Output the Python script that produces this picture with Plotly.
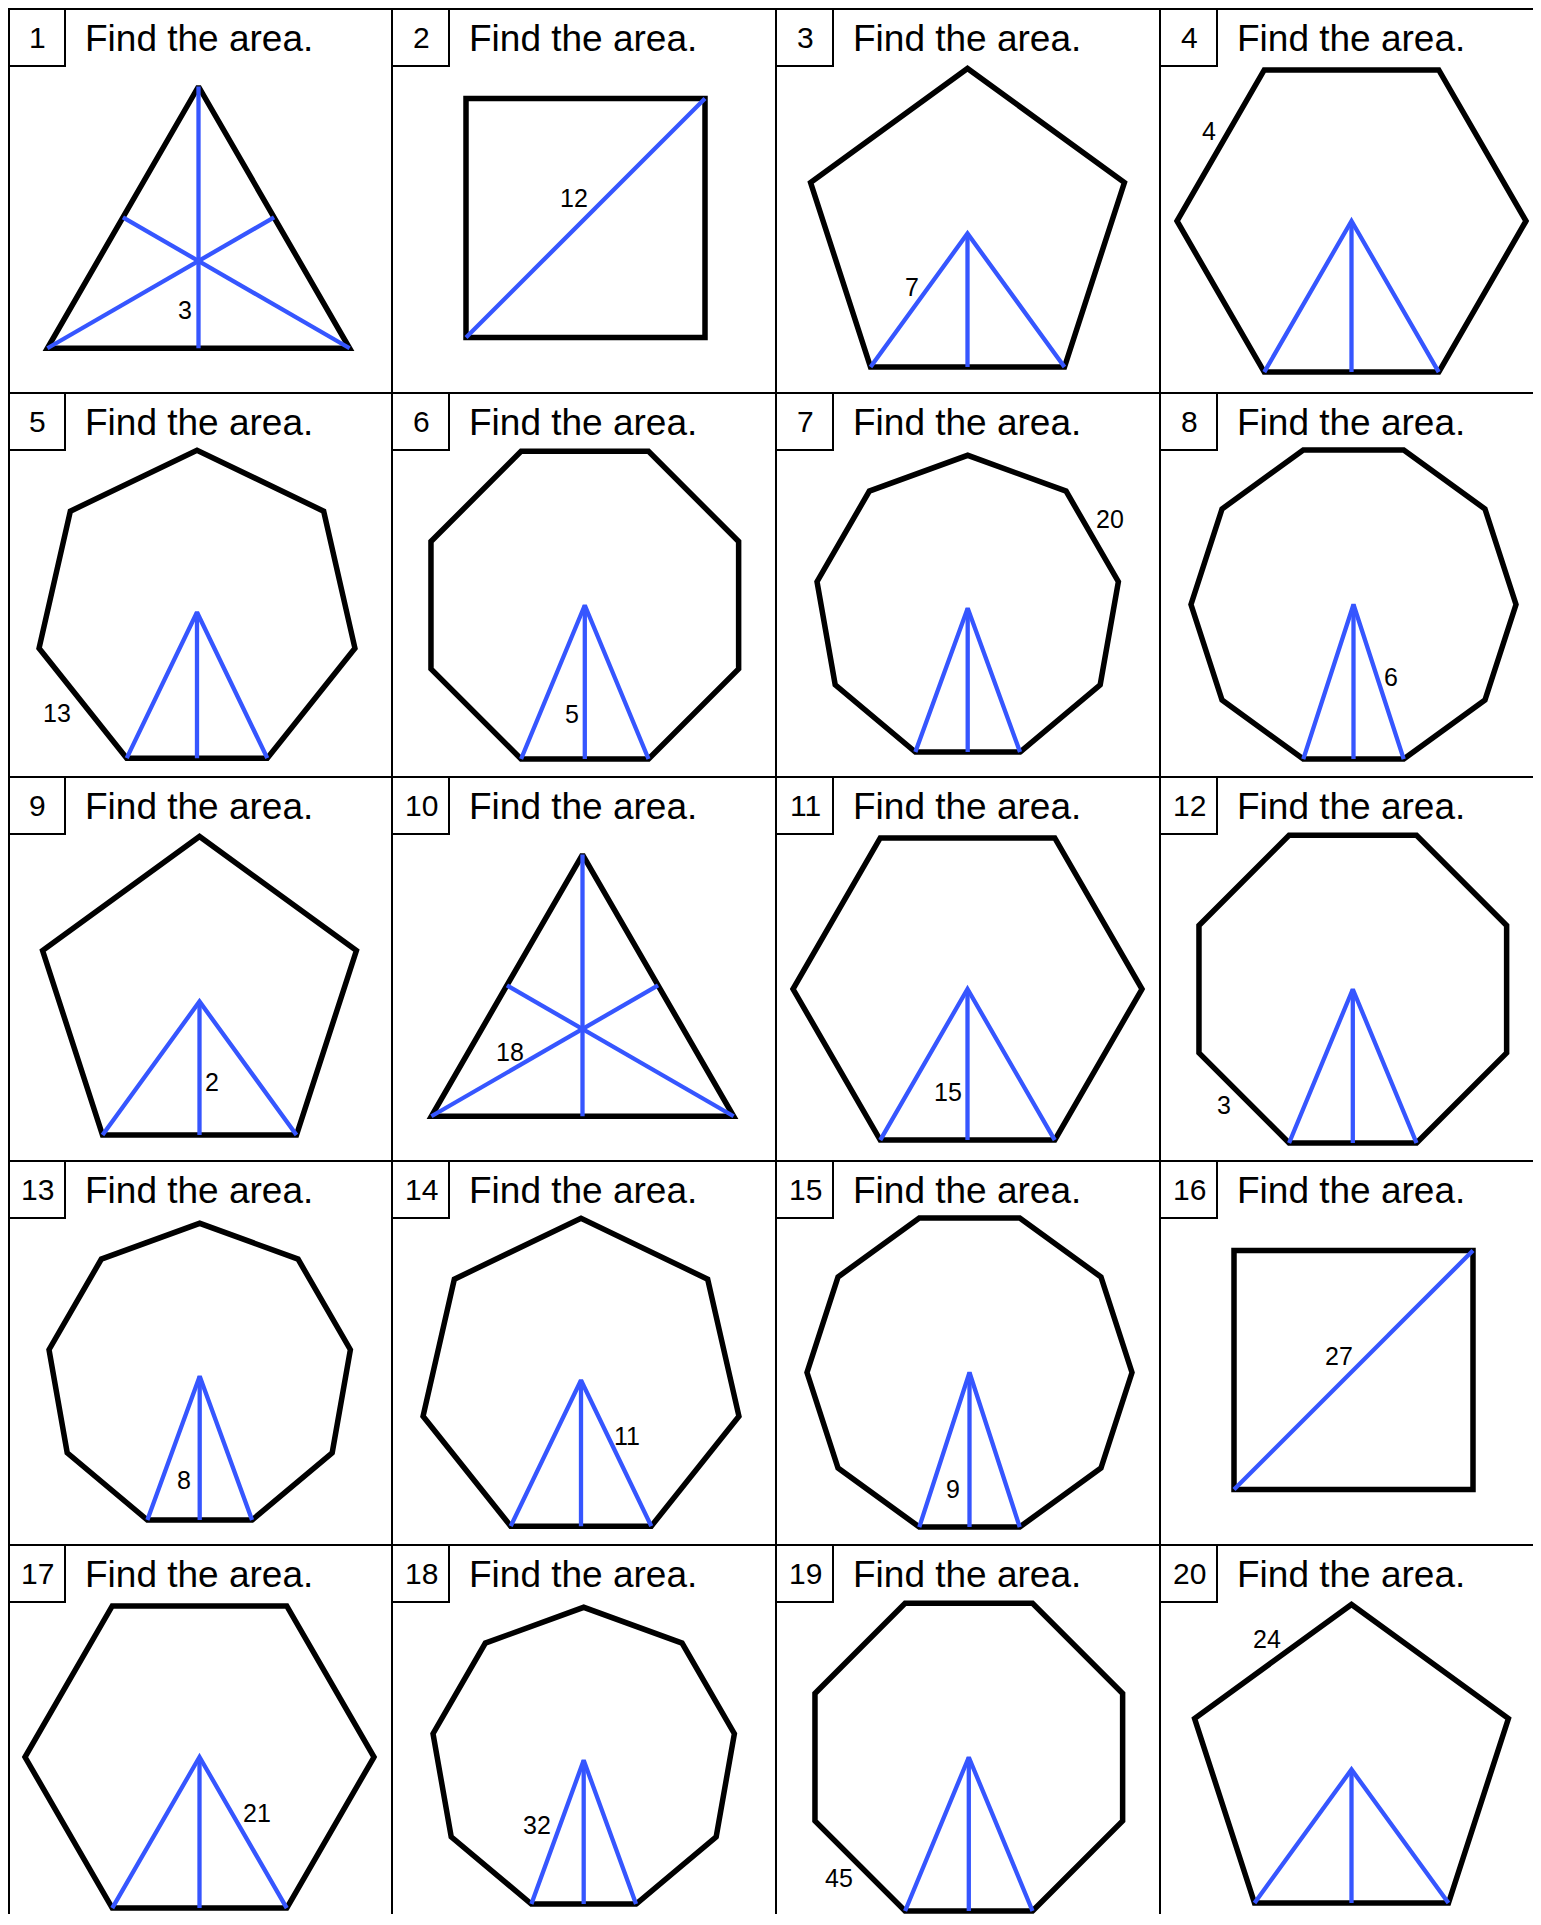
import numpy as np
import plotly.graph_objects as go

# ---------------- data ----------------
problem_numbers = list(range(1, 21))
sides = [3, 4, 5, 6, 7, 8, 9, 10, 5, 3, 6, 8, 9, 7, 10, 4, 6, 9, 8, 5]
given_values = [3, 12, 7, 4, 13, 5, 20, 6, 2, 18, 15, 3, 8, 11, 9, 27, 21, 32, 45, 24]
given_parts = ["apothem", "diagonal", "radius_l", "side", "side", "apothem", "side", "radius_r",
               "apothem", "radius_l", "apothem", "side", "apothem", "radius_r", "apothem",
               "diagonal", "radius_r", "radius_l", "side", "side"]
# which edge carries the value when the given part is a side (vertex index of its first end)
given_side_index = [None, None, None, 3, 5, None, 2, None, None, None,
                    None, 6, None, None, None, None, None, None, 6, 2]
prompt = "Find the area."

# ---------------- layout ----------------
N_COLS, N_ROWS = 4, 5
CELL = 384
GRID_X0, GRID_Y0 = 8, 9
PAGE_X0, PAGE_Y0 = 8, 8          # default body margin of the page
FIG_W, FIG_H = 1533, 1906
X_MAX, Y_MAX = PAGE_X0 + FIG_W, PAGE_Y0 + FIG_H
BOX = 57
BLACK, BLUE = "#000000", "#3656ff"
FONT = "Liberation Sans, Arial, Helvetica, sans-serif"

# circumradius and centre (relative to cell) for each polygon type
shape_geom = {3: (174.5, 190.5, 252.0), 4: (169.0, 193.5, 209.0), 5: (165.0, 191.5, 224.5),
              6: (174.5, 191.5, 212.0), 7: (162.0, 189.0, 219.2), 8: (166.5, 192.8, 212.2),
              9: (153.0, 191.7, 215.3), 10: (162.5, 193.5, 211.5)}
# label shift from the midpoint of the labelled segment
label_shift = [(-14, 5.5), (-12, -20), (-6.6, -13.6), (-11.3, -14.2), (-25.8, 9.9),
               (-12.6, 32), (18.1, -17), (12.7, -5.1), (12.9, 14.1), (3.3, -20.6),
               (-19.5, 27), (-19.7, 7.3), (-15.5, 31.4), (11.2, -17.3), (-16.5, 39.7),
               (-15, -14.4), (13.6, -20), (-21, -7.5), (-21.3, 12.3), (-5.7, -23)]

fig = go.Figure()


def add_path(xs, ys, color, width):
    fig.add_trace(go.Scatter(x=xs, y=ys, mode="lines",
                             line=dict(color=color, width=width),
                             hoverinfo="skip", showlegend=False))


shapes = []
annotations = []

# grid lines
for r in range(N_ROWS):
    y = GRID_Y0 + CELL * r
    shapes.append(dict(type="line", xref="x", yref="y", x0=GRID_X0, x1=X_MAX + 5, y0=y, y1=y,
                       line=dict(color=BLACK, width=2)))
for c in range(N_COLS):
    x = GRID_X0 + CELL * c + (1 if c == 0 else 0)
    shapes.append(dict(type="line", xref="x", yref="y", x0=x, x1=x, y0=GRID_Y0, y1=Y_MAX + 5,
                       line=dict(color=BLACK, width=2)))

for i, num in enumerate(problem_numbers):
    r, c = divmod(i, N_COLS)
    ox, oy = GRID_X0 + CELL * c, GRID_Y0 + CELL * r
    # number box
    shapes.append(dict(type="rect", xref="x", yref="y", x0=ox, x1=ox + BOX, y0=oy, y1=oy + BOX,
                       line=dict(color=BLACK, width=2)))
    annotations.append(dict(x=ox + BOX / 2 + 0.5, y=oy + BOX / 2, xref="x", yref="y",
                            text=str(num), showarrow=False, xanchor="center", yanchor="middle",
                            font=dict(family=FONT, size=30, color=BLACK)))
    annotations.append(dict(x=ox + 75, y=oy + 29, xref="x", yref="y", text=prompt,
                            showarrow=False, xanchor="left", yanchor="middle",
                            font=dict(family=FONT, size=37, color=BLACK)))

    n = sides[i]
    R, rcx, rcy = shape_geom[n]
    cx, cy = ox + rcx, oy + rcy
    phi = np.pi / n + 2 * np.pi * np.arange(n) / n
    vx = cx + R * np.sin(phi)
    vy = cy + R * np.cos(phi)
    apo = R * np.cos(np.pi / n)
    bmx, bmy = cx, cy + apo
    br = (vx[0], vy[0])
    bl = (vx[n - 1], vy[n - 1])

    # black outline (first two vertices repeated so every corner is joined)
    add_path(list(vx) + [vx[0], vx[1]], list(vy) + [vy[0], vy[1]], BLACK, 5.5)

    # blue construction lines
    if n == 3:
        for k in range(3):
            a, b = (k + 1) % 3, (k + 2) % 3
            add_path([vx[k], (vx[a] + vx[b]) / 2], [vy[k], (vy[a] + vy[b]) / 2], BLUE, 4.3)
    elif n == 4:
        add_path([vx[3], vx[1]], [vy[3], vy[1]], BLUE, 4.3)
    else:
        add_path([bl[0], cx, br[0]], [bl[1], cy, br[1]], BLUE, 4.3)
        add_path([cx, bmx], [cy, bmy], BLUE, 4.3)

    # labelled segment
    part = given_parts[i]
    if part == "apothem":
        seg = ((cx, cy), (bmx, bmy))
    elif part == "radius_l":
        seg = ((cx, cy), bl)
    elif part == "radius_r":
        seg = ((cx, cy), br)
    elif part == "diagonal":
        seg = ((vx[3], vy[3]), (vx[1], vy[1]))
    else:
        k = given_side_index[i]
        seg = ((vx[k], vy[k]), (vx[(k + 1) % n], vy[(k + 1) % n]))
    mx = (seg[0][0] + seg[1][0]) / 2
    my = (seg[0][1] + seg[1][1]) / 2
    dx, dy = label_shift[i]
    annotations.append(dict(x=mx + dx, y=my + dy, xref="x", yref="y", text=str(given_values[i]),
                            showarrow=False, xanchor="center", yanchor="middle",
                            font=dict(family=FONT, size=25, color=BLACK)))

fig.update_layout(
    width=FIG_W, height=FIG_H, autosize=False,
    margin=dict(l=0, r=0, t=0, b=0, pad=0),
    paper_bgcolor="white", plot_bgcolor="white",
    xaxis=dict(range=[PAGE_X0, X_MAX], visible=False, fixedrange=True),
    yaxis=dict(range=[Y_MAX, PAGE_Y0], visible=False, fixedrange=True),
    shapes=shapes, annotations=annotations, showlegend=False,
)

fig.write_html("out.html")
